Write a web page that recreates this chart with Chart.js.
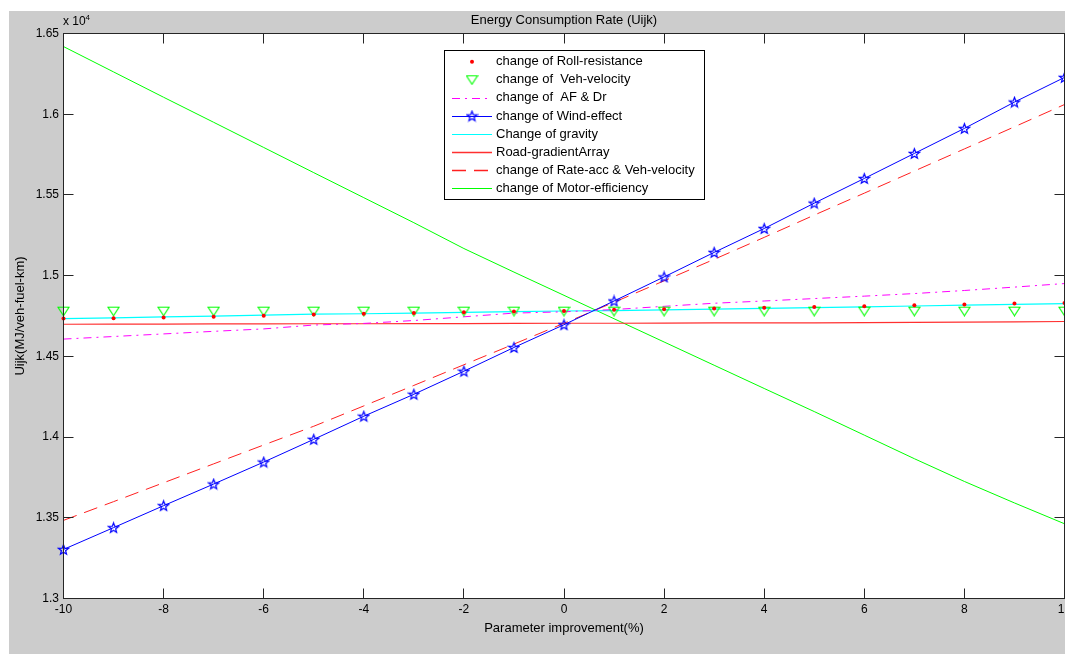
<!DOCTYPE html>
<html><head><meta charset="utf-8">
<script src="https://cdn.jsdelivr.net/npm/chart.js@4.4.1/dist/chart.umd.min.js"></script>
<style>html,body{margin:0;padding:0;background:#fff;overflow:hidden}#wrap{width:1065px;height:654px}</style>
</head><body><div id="wrap"><canvas id="c" width="1065" height="654"></canvas></div>
<script>
// ---- data (units of 10^4 MJ/veh-fuel-km) ----
const paramImprovement = [-10,-9,-8,-7,-6,-5,-4,-3,-2,-1,0,1,2,3,4,5,6,7,8,9,10];
const rollResistance  = [1.4734,1.4736,1.4740,1.4745,1.4752,1.4760,1.4764,1.4768,1.4773,1.4778,1.4781,1.4788,1.4792,1.4796,1.4801,1.4806,1.4811,1.4817,1.4822,1.4827,1.4830];
const vehVelocity     = [1.4780,1.4780,1.4780,1.4780,1.4780,1.4780,1.4780,1.4780,1.4780,1.4780,1.4780,1.4780,1.4780,1.4780,1.4780,1.4780,1.4780,1.4780,1.4780,1.4780,1.4780];
const afDr            = [1.4607,1.4623,1.4639,1.4655,1.4670,1.4694,1.4704,1.4722,1.4745,1.4768,1.4776,1.4790,1.4810,1.4829,1.4843,1.4858,1.4873,1.4889,1.4908,1.4929,1.4951];
const windEffect      = [1.3304,1.3439,1.3575,1.3709,1.3845,1.3986,1.4129,1.4265,1.4408,1.4555,1.4696,1.4843,1.4992,1.5144,1.5292,1.5449,1.5602,1.5757,1.5912,1.6075,1.6228];
const gravity         = [1.4734,1.4739,1.4744,1.4749,1.4755,1.4761,1.4764,1.4768,1.4773,1.4777,1.4781,1.4783,1.4788,1.4792,1.4797,1.4802,1.4807,1.4812,1.4817,1.4822,1.4827];
const roadGradient    = [1.4699,1.4700,1.4700,1.4701,1.4701,1.4702,1.4702,1.4703,1.4703,1.4704,1.4705,1.4705,1.4706,1.4707,1.4707,1.4708,1.4709,1.4710,1.4712,1.4714,1.4716];
const rateAccVel      = [1.3484,1.3600,1.3717,1.3834,1.3951,1.4067,1.4193,1.4320,1.4448,1.4576,1.4705,1.4835,1.4968,1.5101,1.5237,1.5375,1.5511,1.5648,1.5785,1.5922,1.6060];
const motorEfficiency = [1.6419,1.6262,1.6105,1.5950,1.5794,1.5638,1.5483,1.5328,1.5168,1.5022,1.4878,1.4733,1.4589,1.4445,1.4301,1.4158,1.4012,1.3866,1.3725,1.3592,1.3463];
const seriesLabels = ['change of Roll-resistance','change of  Veh-velocity','change of  AF & Dr','change of Wind-effect','Change of gravity','Road-gradientArray','change of Rate-acc & Veh-velocity','change of Motor-efficiency'];
const xTickValues = [-10,-8,-6,-4,-2,0,2,4,6,8,10];
const xTickLabels = ['-10','-8','-6','-4','-2','0','2','4','6','8','10'];
const yTickValues = [1.3,1.35,1.4,1.45,1.5,1.55,1.6,1.65];
const yTickLabels = ['1.3','1.35','1.4','1.45','1.5','1.55','1.6','1.65'];

const FONT = '"Liberation Sans", Arial, Helvetica, sans-serif';

function makeStar(color){
  const s=13, c=document.createElement('canvas'); c.width=c.height=s;
  const g=c.getContext('2d'); const cx=s/2, cy=s/2+0.5, R=5.2, r=R*0.42;
  g.beginPath();
  for(let i=0;i<10;i++){const a=-Math.PI/2+i*Math.PI/5, rr=i%2?r:R; g.lineTo(cx+rr*Math.cos(a), cy+rr*Math.sin(a));}
  g.closePath(); g.strokeStyle=color; g.lineWidth=1.2; g.stroke(); return c;
}
function makeTriDown(color){
  const w=13, h=11, c=document.createElement('canvas'); c.width=w; c.height=h;
  const g=c.getContext('2d');
  g.beginPath(); g.moveTo(1,1.5); g.lineTo(w-1,1.5); g.lineTo(w/2,h-1); g.closePath();
  g.strokeStyle=color; g.lineWidth=1.1; g.stroke(); return c;
}
const starImg = makeStar('#0000ff');
const triImg = makeTriDown('#00ff00');

const pts = arr => paramImprovement.map((x,i)=>({x:x,y:arr[i]}));
const base = {fill:false, tension:0, clip:false, pointHoverRadius:0};
const datasets = [
  Object.assign({}, base, {label:seriesLabels[0], data:pts(rollResistance), showLine:false, pointStyle:'circle', pointRadius:2, pointBackgroundColor:'#ff0000', pointBorderColor:'#ff0000', pointBorderWidth:0, borderColor:'#ff0000', mk:'dot'}),
  Object.assign({}, base, {label:seriesLabels[1], data:pts(vehVelocity), showLine:false, pointStyle:triImg, pointRadius:6, borderColor:'#00ff00', mk:'tri'}),
  Object.assign({}, base, {label:seriesLabels[2], data:pts(afDr), borderColor:'#ff00ff', borderWidth:1, borderDash:[8,5,2,5], pointRadius:0, ln:true}),
  Object.assign({}, base, {label:seriesLabels[3], data:pts(windEffect), borderColor:'#0000ff', borderWidth:1, pointStyle:starImg, pointRadius:5, ln:true, mk:'star'}),
  Object.assign({}, base, {label:seriesLabels[4], data:pts(gravity), borderColor:'#00ffff', borderWidth:1.2, pointRadius:0, ln:true}),
  Object.assign({}, base, {label:seriesLabels[5], data:pts(roadGradient), borderColor:'#ff3030', borderWidth:1.2, pointRadius:0, ln:true}),
  Object.assign({}, base, {label:seriesLabels[6], data:pts(rateAccVel), borderColor:'#ff2020', borderWidth:1, borderDash:[14,8], pointRadius:0, ln:true}),
  Object.assign({}, base, {label:seriesLabels[7], data:pts(motorEfficiency), borderColor:'#00ff00', borderWidth:1, pointRadius:0, ln:true})
];

const framePlugin = {
  id:'frame',
  beforeDraw(chart){
    const ctx=chart.ctx, a=chart.chartArea;
    ctx.save();
    ctx.fillStyle='#ffffff'; ctx.fillRect(0,0,chart.width,chart.height);
    ctx.fillStyle='#cccccc'; ctx.fillRect(9,11,chart.width-9,chart.height-11);
    ctx.fillStyle='#ffffff'; ctx.fillRect(a.left,a.top,a.right-a.left,a.bottom-a.top);
    ctx.restore();
  },
  afterDraw(chart){
    const ctx=chart.ctx, a=chart.chartArea, xs=chart.scales.x, ys=chart.scales.y;
    ctx.save();
    ctx.strokeStyle='#262626'; ctx.lineWidth=1;
    ctx.strokeRect(a.left,a.top,a.right-a.left,a.bottom-a.top);
    const TL=10;
    ctx.beginPath();
    xTickValues.forEach(v=>{const px=Math.round(xs.getPixelForValue(v)-0.5)+0.5;
      ctx.moveTo(px,a.bottom); ctx.lineTo(px,a.bottom-TL);
      ctx.moveTo(px,a.top); ctx.lineTo(px,a.top+TL);});
    yTickValues.forEach(v=>{const py=Math.round(ys.getPixelForValue(v)-0.5)+0.5;
      ctx.moveTo(a.left,py); ctx.lineTo(a.left+TL,py);
      ctx.moveTo(a.right,py); ctx.lineTo(a.right-TL,py);});
    ctx.stroke();
    ctx.fillStyle='#000'; ctx.font='12px '+FONT;
    ctx.textAlign='center'; ctx.textBaseline='middle';
    xTickValues.forEach((v,i)=>ctx.fillText(xTickLabels[i], xs.getPixelForValue(v), a.bottom+11));
    ctx.textAlign='right';
    yTickValues.forEach((v,i)=>ctx.fillText(yTickLabels[i], a.left-4.5, ys.getPixelForValue(v)));
    ctx.textAlign='left'; ctx.font='12px '+FONT; ctx.fillText('x 10', a.left-0.5, 22);
    ctx.font='8px '+FONT; ctx.fillText('4', a.left+22, 18);
    ctx.font='13px '+FONT; ctx.textAlign='center';
    ctx.fillText('Energy Consumption Rate (Uijk)', (a.left+a.right)/2, 20);
    ctx.fillText('Parameter improvement(%)', (a.left+a.right)/2, 628);
    ctx.save(); ctx.translate(20,(a.top+a.bottom)/2); ctx.rotate(-Math.PI/2);
    ctx.fillText('Uijk(MJ/veh-fuel-km)',0,0); ctx.restore();
    // legend
    const L=444.5, T=50.5, R=704.5, B=199.5;
    ctx.fillStyle='#fff'; ctx.fillRect(L,T,R-L,B-T);
    ctx.strokeStyle='#000'; ctx.lineWidth=1; ctx.strokeRect(L,T,R-L,B-T);
    chart.data.datasets.forEach((ds,i)=>{
      const y=61.7+i*18.1, x0=452, x1=492, xm=472;
      if(ds.ln){ctx.save(); ctx.strokeStyle=ds.borderColor; ctx.lineWidth=(i===5||i===6)?1.6:1.2;
        ctx.setLineDash(ds.borderDash||[]); ctx.beginPath(); ctx.moveTo(x0,Math.round(y)+0.5); ctx.lineTo(x1,Math.round(y)+0.5); ctx.stroke(); ctx.restore();}
      if(ds.mk==='dot'){ctx.fillStyle='#ff0000'; ctx.beginPath(); ctx.arc(xm,y,2,0,Math.PI*2); ctx.fill();}
      if(ds.mk==='tri'){ctx.drawImage(triImg, xm-triImg.width/2, y-triImg.height/2);}
      if(ds.mk==='star'){ctx.drawImage(starImg, xm-starImg.width/2, y-starImg.height/2);}
      ctx.fillStyle='#000'; ctx.font='13px '+FONT; ctx.textAlign='left'; ctx.textBaseline='middle';
      ctx.fillText(ds.label, 496, y);
    });
    ctx.restore();
  }
};

new Chart(document.getElementById('c'), {
  type:'line',
  data:{datasets:datasets},
  options:{
    responsive:false, animation:false, devicePixelRatio:1,
    layout:{autoPadding:false, padding:{left:63.5, top:33.5, right:0.5, bottom:55.5}},
    scales:{
      x:{type:'linear', min:-10, max:10, display:false},
      y:{type:'linear', min:1.3, max:1.65, display:false}
    },
    plugins:{legend:{display:false}, title:{display:false}, tooltip:{enabled:false}},
    events:[]
  },
  plugins:[framePlugin]
});
</script></body></html>
